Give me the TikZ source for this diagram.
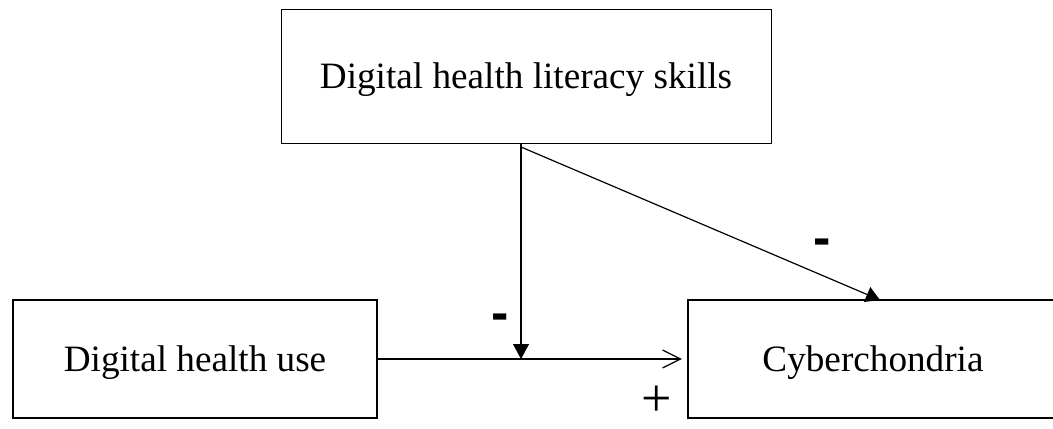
\documentclass[tikz,border=0pt]{standalone}
\usepackage{fontspec}
\setmainfont{Liberation Serif}
\newfontfamily\labsans{Liberation Sans}
\usetikzlibrary{arrows.meta}
\begin{document}
\begin{tikzpicture}[x=0.5pt,y=-0.5pt,
  box/.style={draw, rectangle, inner sep=0pt, text height=12.3pt, text depth=0pt,
    font=\fontsize{18.6}{22}\selectfont},
  conn/.style={line width=0.6pt},
  sign/.style={inner sep=0pt},
]
\useasboundingbox (0,0) rectangle (1053,428);
\node[box, line width=0.5pt, minimum width=245pt, minimum height=67pt] (dhls) at (526,76) {Digital health literacy skills};
\node[box, line width=1.1pt, minimum width=182pt, minimum height=59pt] (dhu) at (195,359) {Digital health use};
\node[box, line width=1.1pt, minimum width=185pt, minimum height=59pt] (cyber) at (873,359) {Cyberchondria};
\coordinate (s1) at (521,143);
\coordinate (s2) at (521,147);
\coordinate (m) at (521,359);
\coordinate (t) at (880,300);
\draw[conn, -{Straight Barb[length=9pt,width=9pt]}, shorten >=2.5pt] (dhu.east) -- (cyber.west);
\draw[conn, -{Triangle[length=7.5pt,width=8pt]}] (s1) -- (m);
\draw[conn, -{Triangle[length=7pt,width=8pt]}] (s2) -- (t);
\node[sign, font=\labsans\bfseries\fontsize{26}{28}\selectfont] (minus1) at (500,322) {-};
\node[sign, font=\labsans\bfseries\fontsize{26}{28}\selectfont] (minus2) at (822,247) {-};
\node[sign, font=\fontsize{27}{29}\selectfont] (plus) at (657,401) {+};
\end{tikzpicture}
\end{document}
